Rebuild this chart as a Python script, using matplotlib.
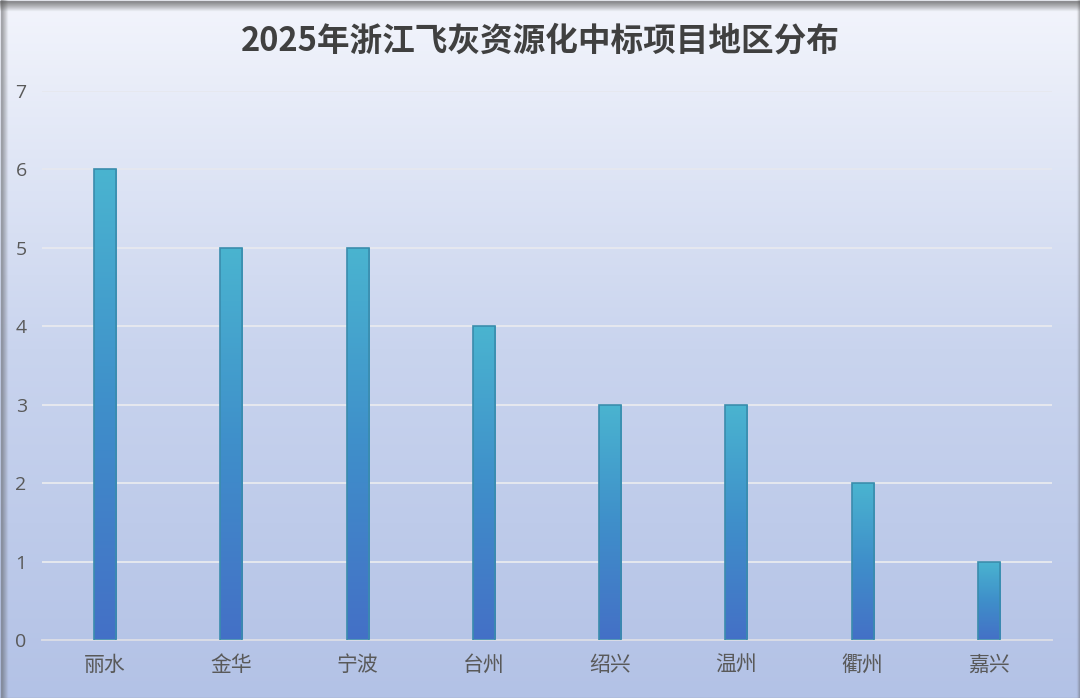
import numpy as np
import matplotlib.pyplot as plt
from matplotlib.colors import LinearSegmentedColormap

plt.rcParams['font.family'] = ['Noto Sans CJK SC', 'DejaVu Sans']

# data
regions = ['丽水', '金华', '宁波', '台州', '绍兴', '温州', '衢州', '嘉兴']
counts = [6, 5, 5, 4, 3, 3, 2, 1]
title = '2025年浙江飞灰资源化中标项目地区分布'

fig = plt.figure(figsize=(10.8, 6.98), dpi=100)

# background gradient over the whole figure
bg = fig.add_axes([0, 0, 1, 1], zorder=-10)
bg_cmap = LinearSegmentedColormap.from_list('bg', ['#b3c2e6', '#c9d4ee', '#f3f5fc'])
grad = np.linspace(0, 1, 256).reshape(-1, 1)
bg.imshow(grad, cmap=bg_cmap, aspect='auto', extent=[0, 1, 0, 1], origin='lower')
bg.set_xlim(0, 1)
bg.set_ylim(0, 1)
bg.axis('off')

# grey frame (top/left heavier like a shadow)
for i, a in enumerate(np.linspace(0.6, 0.05, 10)):
    bg.axhline(1 - (i + 0.5) / 698, color='#555555', alpha=a, lw=1)
for i, a in enumerate(np.linspace(0.45, 0.05, 7)):
    bg.axvline((i + 0.5) / 1080, color='#555555', alpha=a, lw=1)
for i, a in enumerate(np.linspace(0.4, 0.05, 4)):
    bg.axvline(1 - (i + 0.5) / 1080, color='#555555', alpha=a, lw=1)
bg.axhline(0.5 / 698, color='#888888', alpha=0.4, lw=1)

ax = fig.add_axes([42 / 1080, (698 - 640) / 698, 1010 / 1080, 549 / 698])
ax.set_facecolor('none')
x = np.arange(len(regions))
bars = ax.bar(x, counts, width=0.175, facecolor='none', edgecolor='#3a8cad',
              linewidth=1.2, zorder=3)

bar_cmap = LinearSegmentedColormap.from_list('bar', ['#4470c6', '#3f8fca', '#4ab4d0'])
for b in bars:
    x0, w, h = b.get_x(), b.get_width(), b.get_height()
    im = ax.imshow(grad, cmap=bar_cmap, aspect='auto', origin='lower',
                   extent=[x0, x0 + w, 0, h], zorder=2)
    im.set_clip_path(b)

ax.set_xlim(-0.5, len(regions) - 0.5)
ax.set_ylim(0, 7)
ax.set_yticks(range(0, 8))
ax.set_xticks(x)
ax.set_xticklabels(regions)
ax.grid(axis='y', color='#e6e8ef', lw=1.4, zorder=0)
ax.set_axisbelow(True)
for s in ['top', 'right', 'left']:
    ax.spines[s].set_visible(False)
ax.spines['bottom'].set_color('#d9dce6')
ax.spines['bottom'].set_linewidth(1.4)
ax.tick_params(axis='both', length=0, colors='#595959')
ax.tick_params(axis='x', labelsize=15, pad=10)
ax.tick_params(axis='y', labelsize=14, pad=11)
for lbl in ax.get_yticklabels():
    lbl.set_fontfamily(['Open Sans', 'DejaVu Sans'])

fig.text(0.5, 1 - 41 / 698, title, ha='center', va='center', fontsize=23.5,
         fontweight='bold', color='#404040')

fig.savefig('out.png', dpi=100)
